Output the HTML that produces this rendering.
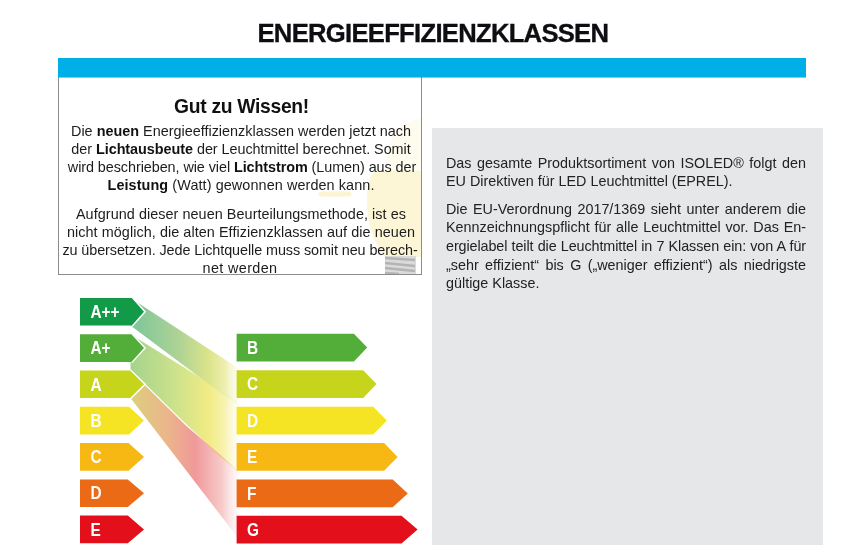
<!DOCTYPE html>
<html><head><meta charset="utf-8">
<style>
*{margin:0;padding:0;box-sizing:border-box}
html,body{width:861px;height:557px;background:#fff;overflow:hidden;font-family:"Liberation Sans",sans-serif;color:#222}
#title{position:absolute;left:257.5px;top:18px;white-space:nowrap;font-weight:bold;font-size:25.6px;line-height:30px;color:#0d0d12;letter-spacing:-0.7px;-webkit-text-stroke:0.35px #0d0d12}
#bar{position:absolute;left:58px;top:58px;width:748px;height:19px;background:#00aee8;z-index:2;box-shadow:0 1px 0 rgba(0,174,232,0.55)}
#box{position:absolute;left:58px;top:77px;width:364px;height:198px;border:1px solid #8c8c8c;border-top:none;background:#fff;overflow:hidden}
#box .h{position:absolute;left:1.5px;width:362px;top:96px;text-align:center;font-weight:bold;font-size:19.3px;letter-spacing:-0.3px;line-height:22px;color:#111}
.ln{position:absolute;left:-19px;width:400px;text-align:center;white-space:nowrap;font-size:15px;line-height:18px;color:#1c1c1c;transform:scaleX(0.96);transform-origin:200px 0}
.ln b{color:#111}
#gray{position:absolute;left:432px;top:128px;width:391px;height:417px;background:#e6e7e9}
.rl{position:absolute;left:446px;width:376px;white-space:nowrap;font-size:15px;line-height:18px;color:#222;transform:scaleX(0.9574);transform-origin:0 0}
.j{text-align:justify;text-align-last:justify}
</style></head><body>
<div id="title">ENERGIEEFFIZIENZKLASSEN</div>
<div id="bar"></div>
<div id="gray"></div>
<svg id="lab" width="861" height="557" style="position:absolute;left:0;top:0">
<defs>
<linearGradient id="g1" gradientUnits="userSpaceOnUse" x1="131" y1="0" x2="238" y2="0"><stop offset="0" stop-color="#7cc59b"/><stop offset="0.45" stop-color="#aed395"/><stop offset="0.72" stop-color="#dbe38b"/><stop offset="0.88" stop-color="#eeefae"/><stop offset="1" stop-color="#fafae4" stop-opacity="0.5"/></linearGradient>
<linearGradient id="g2" gradientUnits="userSpaceOnUse" x1="131" y1="0" x2="238" y2="0"><stop offset="0" stop-color="#a5d38d"/><stop offset="0.45" stop-color="#d0e38a"/><stop offset="0.72" stop-color="#f1eb84"/><stop offset="0.88" stop-color="#f8f3b2"/><stop offset="1" stop-color="#fdfbe8" stop-opacity="0.5"/></linearGradient>
<linearGradient id="g3" gradientUnits="userSpaceOnUse" x1="131" y1="0" x2="238" y2="0"><stop offset="0" stop-color="#dccf7e"/><stop offset="0.33" stop-color="#ebb68a"/><stop offset="0.6" stop-color="#f0999a"/><stop offset="0.85" stop-color="#f7caca"/><stop offset="1" stop-color="#fdf0f0" stop-opacity="0.5"/></linearGradient>
</defs>

<polygon points="130.5,334.3 238,401 238,473 186,424 130.5,369.5" fill="url(#g2)"/>
<polygon points="132,372.5 186,425.8 238,470 238,538 130.5,398" fill="url(#g3)" style="mix-blend-mode:multiply"/>
<polygon points="130.5,298 238,368 238,406 130.5,325.6" fill="url(#g1)"/>
<polyline points="131.8,297.7 144.6,311.8 131.8,325.9" fill="none" stroke="#fff" stroke-width="2.2"/>
<polygon points="80,298 131.8,298 144,311.8 131.8,325.6 80,325.6" fill="#139a48"/>
<text x="0" y="0" transform="translate(90.5,318.0) scale(0.88,1)" fill="#fff" font-weight="bold" font-size="17.5">A++</text>
<polyline points="131.4,334.0 144.6,348.1 131.4,362.2" fill="none" stroke="#fff" stroke-width="2.2"/>
<polygon points="80,334.3 131.4,334.3 144,348.1 131.4,361.9 80,361.9" fill="#53ad39"/>
<text x="0" y="0" transform="translate(90.5,354.3) scale(0.88,1)" fill="#fff" font-weight="bold" font-size="17.5">A+</text>
<polyline points="130.2,370.2 144.6,384.3 130.2,398.4" fill="none" stroke="#fff" stroke-width="2.2"/>
<polygon points="80,370.5 130.2,370.5 144,384.3 130.2,398.1 80,398.1" fill="#c6d41c"/>
<text x="0" y="0" transform="translate(90.5,390.5) scale(0.88,1)" fill="#fff" font-weight="bold" font-size="17.5">A</text>
<polygon points="80,406.8 129,406.8 144,420.6 129,434.4 80,434.4" fill="#f5e424"/>
<text x="0" y="0" transform="translate(90.5,426.8) scale(0.88,1)" fill="#fff" font-weight="bold" font-size="17.5">B</text>
<polygon points="80,443.1 128.5,443.1 144,456.9 128.5,470.7 80,470.7" fill="#f8b813"/>
<text x="0" y="0" transform="translate(90.5,463.1) scale(0.88,1)" fill="#fff" font-weight="bold" font-size="17.5">C</text>
<polygon points="80,479.4 127.8,479.4 144,493.2 127.8,507.0 80,507.0" fill="#ea6a16"/>
<text x="0" y="0" transform="translate(90.5,499.4) scale(0.88,1)" fill="#fff" font-weight="bold" font-size="17.5">D</text>
<polygon points="80,515.6 127.8,515.6 144,529.4 127.8,543.2 80,543.2" fill="#e3101b"/>
<text x="0" y="0" transform="translate(90.5,535.6) scale(0.88,1)" fill="#fff" font-weight="bold" font-size="17.5">E</text>
<polygon points="236.6,333.8 353.9,333.8 367.2,347.6 353.9,361.4 236.6,361.4" fill="#53ad39"/>
<text x="0" y="0" transform="translate(247,353.8) scale(0.88,1)" fill="#fff" font-weight="bold" font-size="17.5">B</text>
<polygon points="236.6,370.3 363.2,370.3 376.5,384.1 363.2,397.9 236.6,397.9" fill="#c6d41c"/>
<text x="0" y="0" transform="translate(247,390.3) scale(0.88,1)" fill="#fff" font-weight="bold" font-size="17.5">C</text>
<polygon points="236.6,406.8 373.2,406.8 386.9,420.6 373.2,434.4 236.6,434.4" fill="#f5e424"/>
<text x="0" y="0" transform="translate(247,426.8) scale(0.88,1)" fill="#fff" font-weight="bold" font-size="17.5">D</text>
<polygon points="236.6,443.1 384.1,443.1 397.6,456.9 384.1,470.7 236.6,470.7" fill="#f8b813"/>
<text x="0" y="0" transform="translate(247,463.1) scale(0.88,1)" fill="#fff" font-weight="bold" font-size="17.5">E</text>
<polygon points="236.6,479.6 392.7,479.6 407.8,493.4 392.7,507.2 236.6,507.2" fill="#ea6a16"/>
<text x="0" y="0" transform="translate(247,499.6) scale(0.88,1)" fill="#fff" font-weight="bold" font-size="17.5">F</text>
<polygon points="236.6,515.8 401.5,515.8 417.6,529.6 401.5,543.4 236.6,543.4" fill="#e3101b"/>
<text x="0" y="0" transform="translate(247,535.8) scale(0.88,1)" fill="#fff" font-weight="bold" font-size="17.5">G</text>
</svg>
<div id="box">
 <svg width="362" height="198" style="position:absolute;left:0;top:0">
  <path d="M362,42 C350,42 338,50 333,62 C328,75 327,85 327,95 L362,95 Z" fill="#fefcee"/>
  <path d="M362,94 L316,94 C310,98 308,108 308,125 C308,145 314,165 326,180 L362,180 Z" fill="#fdf6d6"/>
  <path d="M262,117 L290,117" stroke="#fcf4d2" stroke-width="5" stroke-linecap="round"/>
  <rect x="326" y="179" width="31" height="18" fill="#dadada"/>
  <g stroke="#b4b4b4" stroke-width="2.4">
   <path d="M326,181 L356,183"/>
   <path d="M326,186 L356,189"/>
   <path d="M326,191 L356,194"/>
   <path d="M326,196 L340,197"/>
  </g>
 </svg>
 <div class="h" style="top:19.3px">Gut zu Wissen!</div>

 <div class="ln" style="top:45px;left:-17.8px">Die <b>neuen</b> Energieeffizienzklassen werden jetzt nach</div>
 <div class="ln" style="top:63px;left:-18.2px;letter-spacing:-0.05px">der <b>Lichtausbeute</b> der Leuchtmittel berechnet. Somit</div>
 <div class="ln" style="top:81px;left:-17.5px;letter-spacing:-0.075px">wird beschrieben, wie viel <b>Lichtstrom</b> (Lumen) aus der</div>
 <div class="ln" style="top:99px;left:-17.8px;letter-spacing:0.095px"><b>Leistung</b> (Watt) gewonnen werden kann.</div>
 <div class="ln" style="top:127.6px;left:-17.8px;letter-spacing:0.057px">Aufgrund dieser neuen Beurteilungsmethode, ist es</div>
 <div class="ln" style="top:145.7px;left:-17.8px;letter-spacing:0.064px">nicht möglich, die alten Effizienzklassen auf die neuen</div>
 <div class="ln" style="top:163.9px;left:-19.5px;letter-spacing:-0.096px">zu übersetzen. Jede Lichtquelle muss somit neu berech-</div>
 <div class="ln" style="top:182.1px;left:-19.5px;letter-spacing:0.37px">net werden</div>
</div>
<div class="rl j" style="top:153.9px">Das gesamte Produktsortiment von ISOLED® folgt den</div>
<div class="rl" style="top:172px">EU Direktiven für LED Leuchtmittel (EPREL).</div>
<div class="rl j" style="top:199.9px">Die EU-Verordnung 2017/1369 sieht unter anderem die</div>
<div class="rl j" style="top:217.9px">Kennzeichnungspflicht für alle Leuchtmittel vor. Das En-</div>
<div class="rl j" style="top:236.9px;letter-spacing:-0.1px">ergielabel teilt die Leuchtmittel in 7 Klassen ein: von A für</div>
<div class="rl j" style="top:256.2px">„sehr effizient“ bis G („weniger effizient“) als niedrigste</div>
<div class="rl" style="top:274.2px">gültige Klasse.</div>
</body></html>
